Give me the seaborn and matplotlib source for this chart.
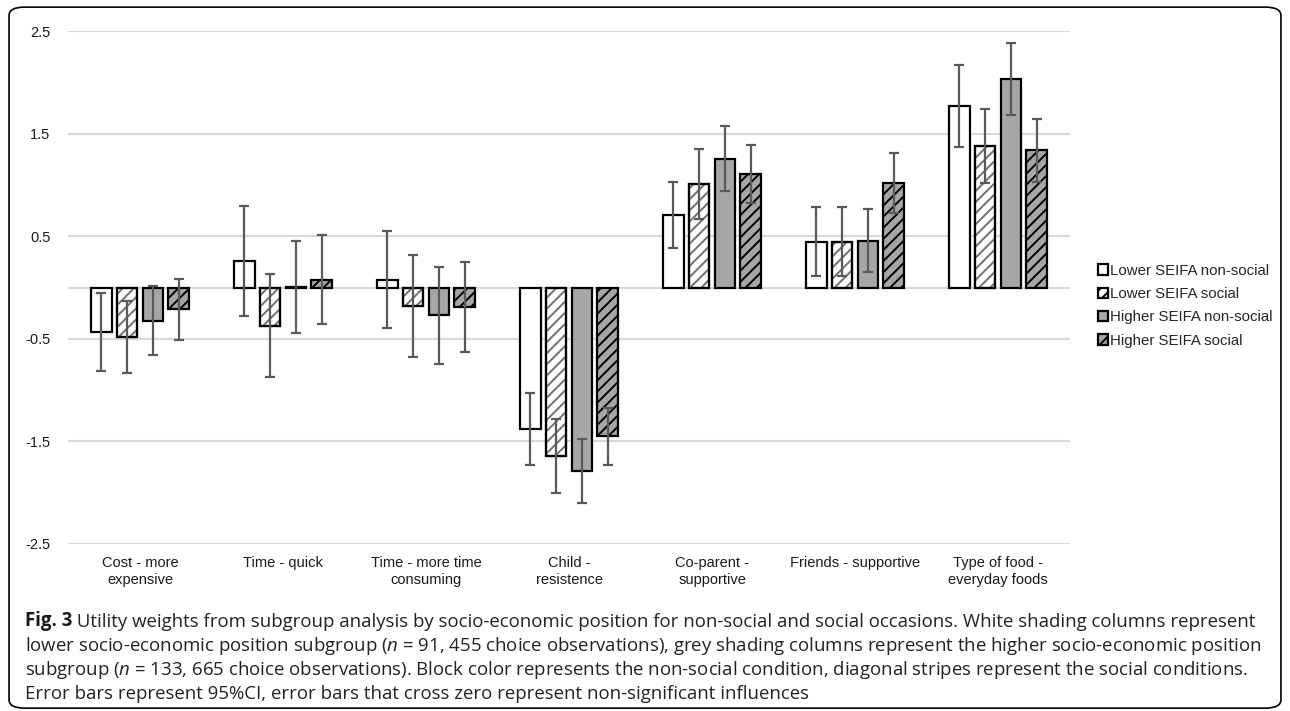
import pandas as pd
import seaborn as sns
import matplotlib.pyplot as plt
from matplotlib.patches import FancyBboxPatch, Rectangle

# ---- data ----
categories = ["Cost - more\nexpensive", "Time - quick", "Time - more time\nconsuming",
              "Child -\nresistence", "Co-parent -\nsupportive", "Friends - supportive",
              "Type of food -\neveryday foods"]
groups = ["Lower SEIFA non-social", "Lower SEIFA social",
          "Higher SEIFA non-social", "Higher SEIFA social"]

lower_nonsocial = [-0.43, 0.26, 0.08, -1.38, 0.71, 0.45, 1.77]
lower_social = [-0.48, -0.37, -0.18, -1.64, 1.01, 0.45, 1.38]
higher_nonsocial = [-0.32, 0.01, -0.27, -1.79, 1.26, 0.46, 2.04]
higher_social = [-0.21, 0.08, -0.19, -1.45, 1.11, 1.02, 1.34]

# half width of the 95% CI
lower_nonsocial_ci = [0.38, 0.54, 0.475, 0.35, 0.325, 0.34, 0.40]
lower_social_ci = [0.35, 0.50, 0.50, 0.36, 0.34, 0.34, 0.36]
higher_nonsocial_ci = [0.335, 0.45, 0.475, 0.31, 0.32, 0.31, 0.35]
higher_social_ci = [0.30, 0.435, 0.44, 0.28, 0.28, 0.29, 0.31]

yticks = [-2.5, -1.5, -0.5, 0.5, 1.5, 2.5]
ytick_labels = ["-2.5", "-1.5", "-0.5", "0.5", "1.5", "2.5"]

caption_lines = [
    " Utility weights from subgroup analysis by socio-economic position for non-social "
    "and social occasions. White shading columns represent",
    "lower socio-economic position subgroup ($n$ = 91, 455 choice observations), grey "
    "shading columns represent the higher socio-economic position",
    "subgroup ($n$ = 133, 665 choice observations). Block color represents the non-social "
    "condition, diagonal stripes represent the social conditions.",
    "Error bars represent 95%CI, error bars that cross zero represent non-significant influences",
]

values = [lower_nonsocial, lower_social, higher_nonsocial, higher_social]
cis = [lower_nonsocial_ci, lower_social_ci, higher_nonsocial_ci, higher_social_ci]

df = pd.DataFrame({
    "Attribute": categories * 4,
    "Group": [g for g in groups for _ in categories],
    "Utility": [v for vals in values for v in vals],
})

# ---- style ----
sns.set_style("white")
plt.rcParams["font.family"] = ["Liberation Sans", "DejaVu Sans"]
plt.rcParams["hatch.linewidth"] = 1.4
plt.rcParams["mathtext.fontset"] = "custom"
plt.rcParams["mathtext.rm"] = "Open Sans"
plt.rcParams["mathtext.it"] = "Open Sans:italic"

fig = plt.figure(figsize=(12.9, 7.11), dpi=100)
ax = fig.add_axes([0.0531, 0.2349, 0.776, 0.7208])

sns.barplot(data=df, x="Attribute", y="Utility", hue="Group", hue_order=groups,
            errorbar=None, width=0.72, gap=0.2, ax=ax, legend=False)

face = ["white", "white", "#a6a6a6", "#a6a6a6"]
hatch = [None, "///", None, "///"]
# hatch lines follow the edge colour, so the black outline is drawn on top separately
edge = ["black", "#707070", "black", "black"]

bars = list(ax.containers)
for i, cont in enumerate(bars):
    xs = []
    for p in cont.patches:
        p.set_facecolor(face[i])
        p.set_edgecolor(edge[i])
        p.set_linewidth(1.6)
        if hatch[i]:
            p.set_hatch(hatch[i])
        if edge[i] != "black":
            ax.add_patch(Rectangle(p.get_xy(), p.get_width(), p.get_height(),
                                   fill=False, edgecolor="black", lw=1.6, zorder=p.get_zorder()))
        xs.append(p.get_x() + p.get_width() / 2)
    ax.errorbar(xs, values[i], yerr=cis[i], fmt="none", ecolor="#5a5a5a",
                elinewidth=1.6, capsize=3.5, capthick=1.6, zorder=5)

ax.set_ylim(-2.5, 2.5)
ax.set_yticks(yticks)
ax.set_yticklabels(ytick_labels)
ax.set_xlim(-0.5, len(categories) - 0.5)
ax.axhline(0, color="#d9d9d9", lw=1.5, zorder=0)
ax.grid(axis="y", color="#d9d9d9", lw=1.5)
ax.set_axisbelow(True)
ax.tick_params(axis="both", length=0, labelsize=10.5, colors="#1a1a1a")
ax.tick_params(axis="y", pad=13)
ax.tick_params(axis="x", pad=9)
ax.set_xlabel("")
ax.set_ylabel("")
sns.despine(ax=ax, left=True, bottom=True)

leg = ax.legend(handles=[c.patches[0] for c in bars], labels=groups,
                loc="center left", bbox_to_anchor=(0.845, 0.570),
                bbox_transform=fig.transFigure, frameon=False, fontsize=10.8,
                handlelength=0.7, handleheight=0.7, handletextpad=0.15,
                labelspacing=0.62, borderpad=0)
for h in leg.legend_handles:
    h.set_edgecolor("black")

# ---- caption ----
cap_font = dict(family=["Open Sans", "DejaVu Sans"], fontsize=13.4, color="#222222")
baselines = [626, 651, 675, 699]
t1 = fig.text(25 / 1290, 1 - baselines[0] / 711, "Fig. 3", fontweight="bold",
              va="baseline", family=["Open Sans", "DejaVu Sans"], fontsize=13.4,
              color="#1a1a1a")
ax.annotate(caption_lines[0], xy=(1, 0), xycoords=t1, va="bottom", ha="left",
            annotation_clip=False, **cap_font)
for line, yb in zip(caption_lines[1:], baselines[1:]):
    fig.text(25 / 1290, 1 - yb / 711, line, va="baseline", **cap_font)

# rounded frame around the whole figure
fig.patches.append(FancyBboxPatch((0.007, 0.004), 0.986, 0.986,
                                  boxstyle="round,pad=0,rounding_size=0.012",
                                  transform=fig.transFigure, fill=False,
                                  edgecolor="black", lw=1.2))

plt.savefig("out.png", dpi=100)
